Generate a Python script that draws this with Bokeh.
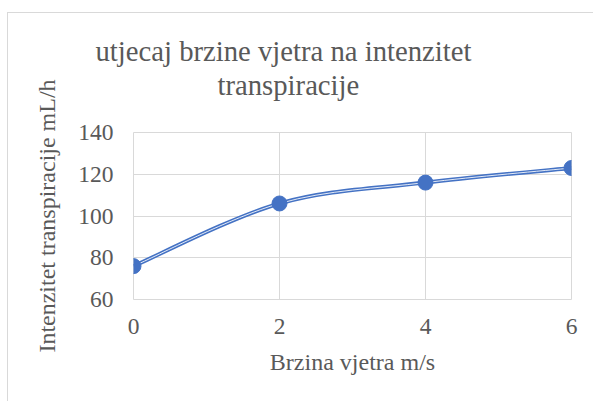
import numpy as np
from bokeh.plotting import figure
from bokeh.models import FixedTicker, Title
from bokeh.embed import file_html
from bokeh.resources import INLINE

# data
wind_speed = [0, 2, 4, 6]
transpiration = [76, 106, 116, 123]
x_ticks = [0, 2, 4, 6]
y_ticks = [60, 80, 100, 120, 140]
title_lines = ["utjecaj brzine vjetra na intenzitet", "transpiracije"]
x_label = "Brzina vjetra m/s"
y_label = "Intenzitet transpiracije mL/h"

FONT = "Liberation Serif"
TXT = "#595959"
GRID = "#d9d9d9"
BLUE = "#4472C4"

p = figure(width=586, height=389, output_backend="svg", toolbar_location=None,
           x_range=(0, 6), y_range=(60, 140),
           min_border_left=125, min_border_right=23, min_border_top=119, min_border_bottom=103)
p.styles = {"margin-top": "12px", "margin-left": "7px",
            "border-top": "1px solid #d9d9d9", "border-left": "1px solid #d9d9d9"}
p.outline_line_color = GRID
p.background_fill_color = "white"
p.border_fill_color = "white"

for ax in (p.xaxis[0], p.yaxis[0]):
    ax.axis_line_color = None
    ax.major_tick_line_color = None
    ax.minor_tick_line_color = None
    ax.major_tick_out = 0
    ax.major_tick_in = 0
    ax.major_label_text_font = FONT
    ax.major_label_text_font_size = "23.5px"
    ax.major_label_text_color = TXT
    ax.axis_label_text_font = FONT
    ax.axis_label_text_font_size = "24px"
    ax.axis_label_text_font_style = "normal"
    ax.axis_label_text_color = TXT

p.xaxis[0].ticker = FixedTicker(ticks=x_ticks)
p.yaxis[0].ticker = FixedTicker(ticks=y_ticks)
p.xaxis[0].axis_label = x_label
p.yaxis[0].axis_label = y_label
p.xaxis[0].major_label_standoff = 19
p.yaxis[0].major_label_standoff = 20
p.xaxis[0].axis_label_standoff = 12
p.yaxis[0].axis_label_standoff = 15

p.xgrid[0].ticker = FixedTicker(ticks=x_ticks)
p.ygrid[0].ticker = FixedTicker(ticks=y_ticks)
p.xgrid[0].grid_line_color = GRID
p.ygrid[0].grid_line_color = GRID

# smooth curve (Excel-like Catmull-Rom -> cubic Bezier)
xs = np.array(wind_speed, dtype=float)
ys = np.array(transpiration, dtype=float)
xp = np.concatenate([[xs[0]], xs, [xs[-1]]])
yp = np.concatenate([[ys[0]], ys, [ys[-1]]])
n = len(xs)
x0 = xs[:-1]; y0 = ys[:-1]; x1 = xs[1:]; y1 = ys[1:]
cx0 = xs[:-1] + (xp[2:n + 1] - xp[0:n - 1]) / 6
cy0 = ys[:-1] + (yp[2:n + 1] - yp[0:n - 1]) / 6
cx1 = xs[1:] - (xp[3:n + 2] - xp[1:n]) / 6
cy1 = ys[1:] - (yp[3:n + 2] - yp[1:n]) / 6

p.bezier(x0=x0, y0=y0, x1=x1, y1=y1, cx0=cx0, cy0=cy0, cx1=cx1, cy1=cy1,
         line_color=BLUE, line_width=4)
p.bezier(x0=x0, y0=y0, x1=x1, y1=y1, cx0=cx0, cy0=cy0, cx1=cx1, cy1=cy1,
         line_color="white", line_width=1, line_alpha=0.85)
p.scatter(wind_speed, transpiration, size=15, fill_color=BLUE, line_color=BLUE)

# spacer between plot frame and the two-line title
p.add_layout(Title(text=" ", standoff=29, text_font_size="1px"), "above")
# title: two lines (first added sits closest to the plot)
p.add_layout(Title(text=title_lines[1], align="left", offset=84, standoff=0,
                   text_font=FONT, text_font_size="28.7px", text_font_style="normal",
                   text_color=TXT), "above")
p.add_layout(Title(text=title_lines[0], align="left", offset=-38, standoff=0,
                   text_font=FONT, text_font_size="28.7px", text_font_style="normal",
                   text_color=TXT), "above")

open("out.html", "w").write(file_html(p, INLINE))
